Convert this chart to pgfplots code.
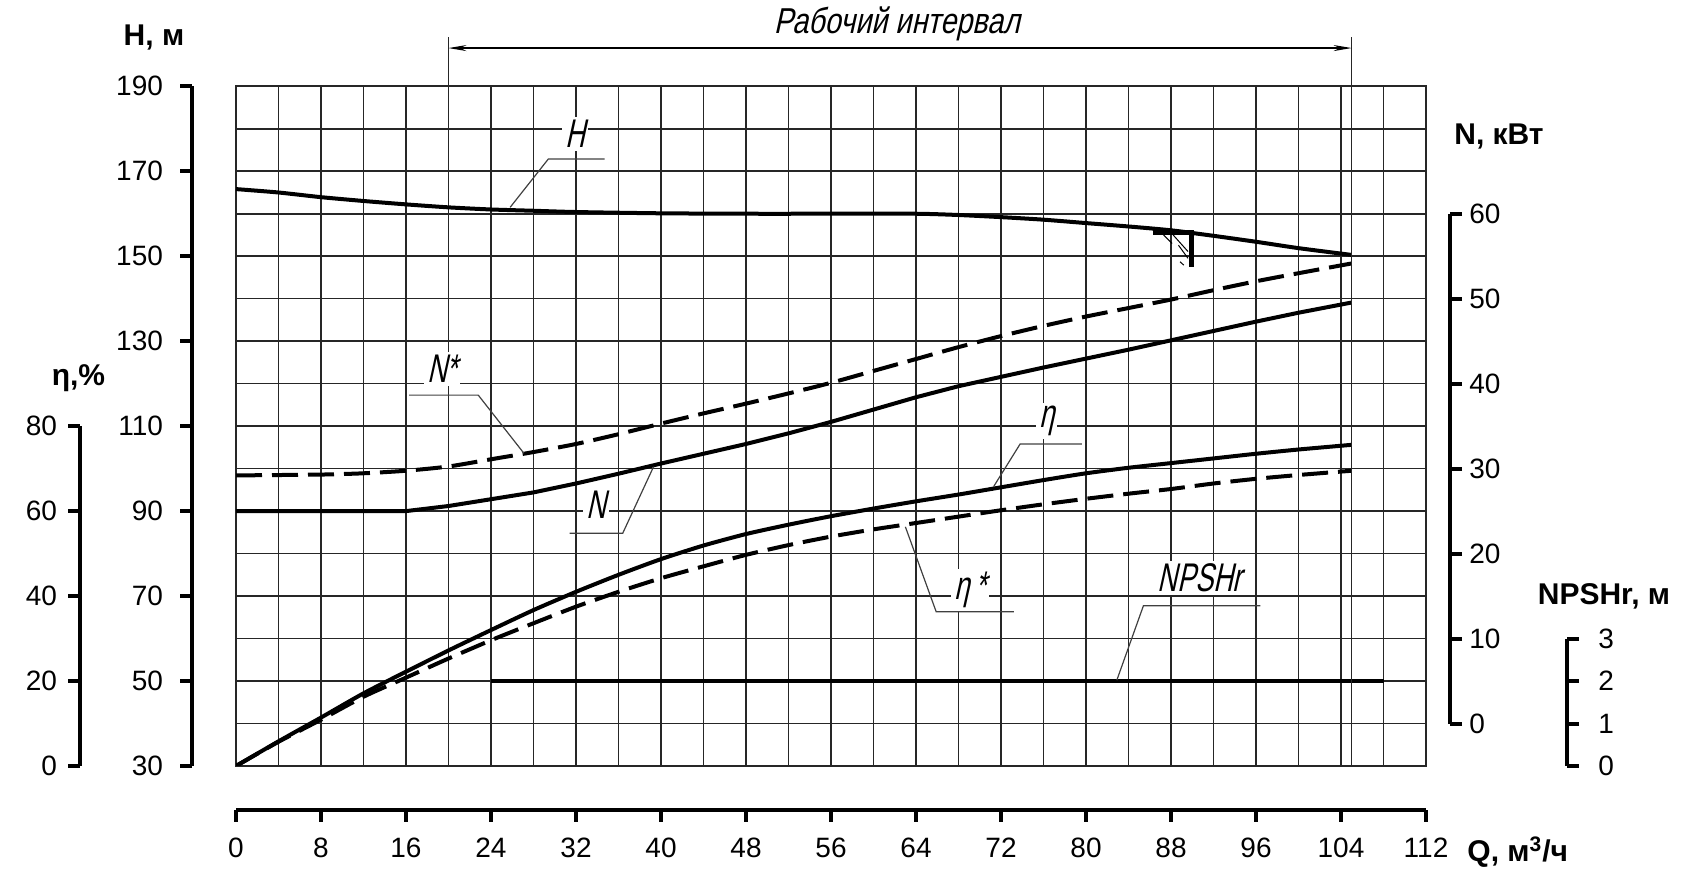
\documentclass[border=0pt]{standalone}
\usepackage{fontspec}
\setmainfont{Liberation Sans}
\newfontfamily\gost[FakeStretch=0.68,FakeSlant=0.22]{Liberation Sans}
\newfontfamily\gostw[FakeStretch=0.8,FakeSlant=0.22]{Liberation Sans}
\usepackage{pgfplots}
\usepackage{pgfplotstable}
\pgfplotsset{compat=1.18}
\usetikzlibrary{arrows.meta}

% Q, m3/h -- H, m
\pgfplotstableread{
Q H
0 165.8
4 165.0
8 163.9
12 163.0
16 162.2
20 161.5
24 161.0
28 160.7
32 160.4
40 160.1
48 160.0
56 160.0
64 160.0
68 159.7
72 159.2
76 158.6
80 157.8
84 157.0
88 156.1
92 154.8
96 153.4
100 151.9
105 150.3
}\Hdata

% N, kW
\pgfplotstableread{
Q N
0 25.0
16 25.0
20 25.6
24 26.4
28 27.2
32 28.25
36 29.4
40 30.6
44 31.75
48 32.9
52 34.15
56 35.5
60 36.95
64 38.4
68 39.7
72 40.8
76 41.9
80 42.95
84 44.0
88 45.1
92 46.2
96 47.3
100 48.35
105 49.55
}\Ndata

\pgfplotstableread{
Q N
0 29.2
8 29.3
12 29.45
16 29.75
20 30.25
24 31.1
28 31.95
32 32.9
36 34.05
40 35.3
44 36.5
48 37.65
52 38.85
56 40.1
60 41.5
64 42.9
68 44.3
72 45.6
76 46.8
80 47.9
84 48.9
88 49.9
92 51.0
96 52.05
100 53.0
105 54.15
}\NSdata

% eta, %
\pgfplotstableread{
Q E
0 0
4 5.8
8 11.4
12 17.1
16 22.2
20 27.2
24 32.0
28 36.7
32 41.0
36 45.0
40 48.7
44 51.9
48 54.6
52 56.8
56 58.8
60 60.6
64 62.3
68 63.9
72 65.6
76 67.3
80 68.9
84 70.2
88 71.3
92 72.4
96 73.5
100 74.5
105 75.6
}\Edata

\pgfplotstableread{
Q E
0 0
4 5.7
8 10.9
12 16.3
16 20.8
20 25.3
24 29.6
28 33.6
32 37.5
36 41.0
40 44.2
44 47.0
48 49.7
52 52.0
56 54.0
60 55.7
64 57.2
68 58.7
72 60.2
76 61.6
80 62.9
84 64.1
88 65.2
92 66.5
96 67.6
100 68.5
105 69.5
}\ESdata

% NPSHr, m
\pgfplotstableread{
Q P
24 2
108 2
}\Pdata

\tikzset{
  leader/.style={black!75, line width=0.6pt},
  lbl/.style={fill=white, inner sep=1.5pt, font=\gost\fontsize{20}{20}\selectfont},
}
\pgfplotsset{
  box/.style={scale only axis, width=595pt, height=339.85pt,
    xmin=0, xmax=112, at={(0,0)}, anchor=south west},
  curve/.style={black, line width=2pt, line join=round},
  dcurve/.style={black, line width=2pt, dash pattern=on 13pt off 5pt},
  scaleax/.style={scale only axis, major tick length=6pt,
    tick style={line width=2pt, black},
    tick label style={font=\fontsize{14}{14}\selectfont, inner sep=0pt},
    /pgf/number format/assume math mode=true},
  noarrow/.style={axis line style={line width=2pt, -},
    x axis line style={-}, y axis line style={-},
    every outer x axis line/.append style={-},
    every outer y axis line/.append style={-},
    every inner x axis line/.append style={-},
    every inner y axis line/.append style={-},
    tick align=outside},
}

\begin{document}
\begin{tikzpicture}
\useasboundingbox (-118pt,-57.5pt) rectangle (724.5pt,383pt);

% grid
\begin{axis}[box, ymin=30, ymax=190,
  xtick={0,4,...,112}, ytick={30,40,...,190},
  xticklabels={}, yticklabels={}, major tick length=0pt,
  grid=major, major grid style={black!85, line width=0.8pt},
  axis line style={black!85, line width=0.8pt}]
\end{axis}

% eta
\begin{axis}[box, ymin=0, ymax=160, hide axis]
\addplot[curve, smooth, tension=0.4] table[x=Q, y=E] {\Edata};
\addplot[dcurve, smooth, tension=0.4] table[x=Q, y=E] {\ESdata};
\end{axis}

% N
\begin{axis}[box, ymin=-5, ymax=75, hide axis]
\addplot[curve] table[x=Q, y=N] {\Ndata};
\addplot[dcurve, smooth, tension=0.4] table[x=Q, y=N] {\NSdata};
\end{axis}

% NPSHr
\begin{axis}[box, ymin=0, ymax=16, hide axis]
\addplot[curve] table[x=Q, y=P] {\Pdata};
\end{axis}

% H and notes
\begin{axis}[box, ymin=30, ymax=190, hide axis, clip=false]
\addplot[curve, smooth, tension=0.4] table[x=Q, y=H] {\Hdata};
% marker at Q=90
\draw[black, line width=2.5pt] (axis cs:86.3,155.7) -- (axis cs:89.9,155.7) -- (axis cs:89.9,147.5);
\draw[black, line width=0.5pt] (axis cs:87.3,155.0) -- (axis cs:88.1,153.0);
\draw[black, line width=0.5pt] (axis cs:88.2,155.0) -- (axis cs:89.6,151.1);
\draw[black, line width=0.5pt] (axis cs:88.7,152.6) -- (axis cs:89.6,149.5);
\draw[black, line width=0.5pt] (axis cs:88.85,148.7) -- (axis cs:89.2,147.9);
% working range
\draw[black!85, line width=0.8pt] (axis cs:20,190) -- (axis cs:20,201.6);
\draw[black!85, line width=0.8pt] (axis cs:105,30) -- (axis cs:105,201.6);
\draw[black, line width=0.6pt, {Stealth[length=9pt,width=3pt]}-{Stealth[length=9pt,width=3pt]}]
  (axis cs:20,199) -- (axis cs:105,199);
\node[font=\gostw\fontsize{18}{18}\selectfont] at (axis cs:62.2,204.7) {Рабочий интервал};
% curve labels
\draw[leader] (axis cs:25.8,161.5) -- (axis cs:29.4,172.9) -- (axis cs:34.7,172.9);
\node[lbl] at (axis cs:31.9,178.8) {H};
\draw[leader] (axis cs:27.1,103.6) -- (axis cs:22.8,117.3) -- (axis cs:16.3,117.3);
\node[lbl] at (axis cs:19.4,123.5) {N*};
\draw[leader] (axis cs:39.3,100.45) -- (axis cs:36.4,84.8) -- (axis cs:31.4,84.8);
\node[lbl] at (axis cs:33.9,91.4) {N};
\draw[leader] (axis cs:71.3,95.75) -- (axis cs:73.8,105.8) -- (axis cs:79.6,105.8);
\node[lbl] at (axis cs:76.3,111.2) {η};
\draw[leader] (axis cs:63.0,86.3) -- (axis cs:65.9,66.3) -- (axis cs:73.2,66.3);
\node[lbl] at (axis cs:69.1,71.4) {η\,*};
\draw[leader] (axis cs:82.9,50.2) -- (axis cs:85.4,67.7) -- (axis cs:96.4,67.7);
\node[lbl] at (axis cs:90.7,74.3) {NPSHr};
\end{axis}

% Q scale
\begin{axis}[scaleax, width=595pt, height=10pt, at={(0,-22pt)}, anchor=south west,
  xmin=0, xmax=112, ymin=0, ymax=1, axis x line=bottom, axis y line=none,
  xtick={0,8,...,112}, noarrow,
  xticklabel style={anchor=north, yshift=-7.7pt}]
\end{axis}

% H scale
\begin{axis}[scaleax, width=1pt, height=339.85pt, at={(-21.85pt,0)}, anchor=south west,
  xmin=0, xmax=1, ymin=30, ymax=190, axis y line=left, axis x line=none,
  ytick={30,50,...,190}, noarrow,
  yticklabel style={anchor=east, xshift=-8.5pt}]
\end{axis}

% eta scale
\begin{axis}[scaleax, width=1pt, height=169.925pt, at={(-78pt,0)}, anchor=south west,
  xmin=0, xmax=1, ymin=0, ymax=80, axis y line=left, axis x line=none,
  ytick={0,20,...,80}, noarrow,
  yticklabel style={anchor=east, xshift=-5.3pt}]
\end{axis}

% N scale
\begin{axis}[scaleax, width=1pt, height=255pt, at={(607pt,21pt)}, anchor=south east,
  xmin=0, xmax=1, ymin=0, ymax=60, axis y line=right, axis x line=none,
  ytick={0,10,...,60}, noarrow,
  yticklabel style={anchor=west, xshift=3.5pt}]
\end{axis}

% NPSHr scale
\begin{axis}[scaleax, width=1pt, height=63.7pt, at={(665.5pt,0)}, anchor=south east,
  xmin=0, xmax=1, ymin=0, ymax=3, axis y line=right, axis x line=none,
  ytick={0,1,2,3}, noarrow,
  yticklabel style={anchor=west, xshift=9.5pt}]
\end{axis}

\node[font=\bfseries\fontsize{15}{15}\selectfont] at (-41pt,364pt) {H, м};
\node[font=\bfseries\fontsize{15}{15}\selectfont] at (-78.75pt,194pt) {η,\%};
\node[font=\bfseries\fontsize{15}{15}\selectfont] at (631.5pt,314.65pt) {N, кВт};
\node[font=\bfseries\fontsize{15}{15}\selectfont] at (684pt,84.65pt) {NPSHr, м};
\node[font=\bfseries\fontsize{15}{15}\selectfont, anchor=base west, inner sep=0pt] at (615.5pt,-48pt) {Q, м$^{\mathbf{3}}$/ч};
\end{tikzpicture}
\end{document}
